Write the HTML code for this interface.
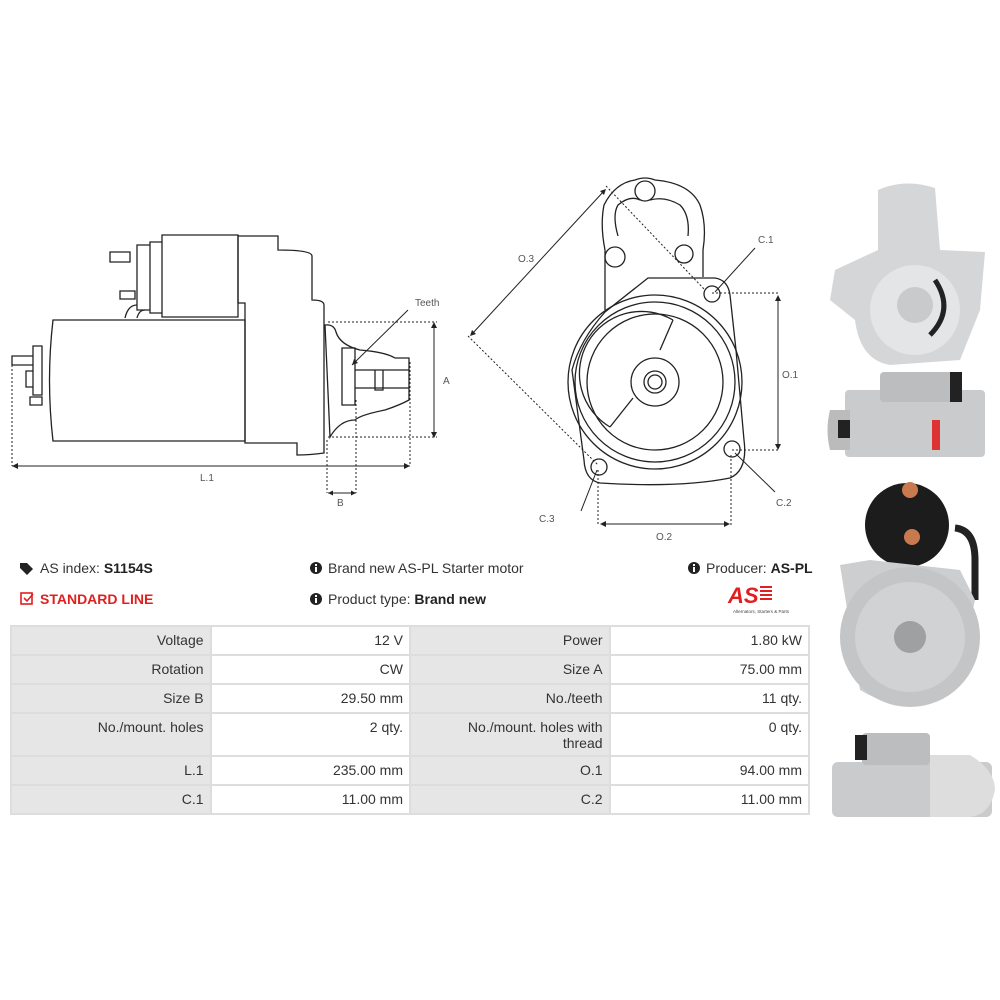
<!DOCTYPE html>
<html><head><meta charset="utf-8"><style>
body{margin:0;background:#fff;width:1000px;height:1000px;position:relative;overflow:hidden;font-family:"Liberation Sans",sans-serif;color:#333}
.t{position:absolute;font-size:14px;white-space:nowrap}
table{position:absolute;left:10px;top:625px;width:800px;border-collapse:separate;border-spacing:2px;background:#ddd;font-size:14px;color:#333;line-height:16px}
td{height:22px;padding:5px 6px 0 6px;text-align:right;vertical-align:top}
td.k{background:#e6e6e6;width:186px}
td.v{background:#fff;width:186px}
tr.tall td{height:36px}
</style></head><body>
<svg width="1000" height="1000" style="position:absolute;left:0;top:0" fill="none" stroke="#222" stroke-width="1.3" font-family="Liberation Sans" font-size="10">
<path d="M53,320 H245 V441 H53 Q46,380 53,320 Z"/>
<path d="M162,235 H238 V317 H162 Z M150,242 H162 V313 H150 Z M137,245 H150 V310 H137 Z"/>
<path d="M110,252 H130 V262 H110 Z M120,291 H135 V299 H120 Z"/>
<path d="M238,236 H278 V250 Q312,250 312,256 V300 Q324,300 324,305 V453 Q310,455 297,455 V443 H245 V303 H238 Z"/>
<path d="M125,318 Q128,305 137,305 M137,318 Q139,310 145,310"/>
<path d="M33,346 H42 V395 H33 Z M12,356 H33 V365 H12 Z M26,371 H33 V387 H26 Z M30,397 H42 V405 H30 Z"/>
<path d="M325,325 Q334,324 336,332 Q340,345 360,350 Q385,352 395,358 H409 V400 Q400,405 385,410 Q360,415 355,420 Q340,420 330,437 Z"/>
<path d="M342,348 H355 V405 H342 Z M355,370 H409 M355,388 H409 M375,370 H383 V390 H375 Z"/>
<g stroke-dasharray="2,2" stroke-width="1"><path d="M328,322 H437 M328,437 H437 M12,365 V466 M410,362 V466 M327,440 V493 M356,400 V493"/></g>
<path d="M434,325 V435 M12,466 H410 M328,493 H356 M408,310 L352,365" stroke-width="1"/>
<g fill="#222" stroke="none"><path d="M434,322 l-3,6 h6Z M434,438 l-3,-6 h6Z M12,466 l6,-3 v6Z M410,466 l-6,-3 v6Z M328,493 l5,-2.5 v5Z M356,493 l-5,-2.5 v5Z M352,365 l2,-6 l4,4Z"/></g>
<path d="M605,310 V250 Q600,225 604,205 Q615,183 635,180 Q645,176 655,180 Q690,183 700,205 Q707,225 703,250 V277"/>
<path d="M618,236 Q612,215 618,205 Q630,195 640,200 M650,200 Q665,196 680,205 Q690,215 688,236"/>
<circle cx="645" cy="191" r="10"/><circle cx="615" cy="257" r="10"/><circle cx="684" cy="254" r="9"/>
<path d="M648,278 H715 Q728,280 730,295 L736,350 L744,440 Q748,470 730,478 Q680,488 600,483 Q585,480 584,460 L572,370 Q580,340 605,312 Z"/>
<circle cx="655" cy="382" r="87"/><circle cx="655" cy="382" r="80"/><circle cx="655" cy="382" r="68"/>
<path d="M673,320 A62,62 0 0 0 610,427 M610,427 L633,398 M673,320 L660,350"/>
<circle cx="655" cy="382" r="24"/><circle cx="655" cy="382" r="11"/><circle cx="655" cy="382" r="7"/>
<circle cx="712" cy="294" r="8"/><circle cx="732" cy="449" r="8"/><circle cx="599" cy="467" r="8"/>
<g stroke-dasharray="2,2" stroke-width="1"><path d="M712,293 H780 M732,450 H780 M598,470 V525 M731,455 V525 M606,186 L705,290 M468,336 L598,465"/></g>
<path d="M778,298 V447 M603,524 H727 M604,191 L472,334 M755,248 L715,292 M581,511 L597,470 M775,492 L735,453" stroke-width="1"/>
<g fill="#222" stroke="none"><path d="M778,295 l-3,6 h6Z M778,450 l-3,-6 h6Z M600,524 l6,-3 v6Z M730,524 l-6,-3 v6Z M606,189 l-6,2 l4,4Z M470,336 l6,-2 l-4,-4Z"/></g>
<g fill="#555" stroke="none">
<text x="415" y="306">Teeth</text><text x="443" y="384">A</text><text x="200" y="481">L.1</text><text x="337" y="506">B</text>
<text x="518" y="262">O.3</text><text x="758" y="243">C.1</text><text x="782" y="378">O.1</text><text x="776" y="506">C.2</text><text x="539" y="522">C.3</text><text x="656" y="540">O.2</text>
</g>
<g stroke="none">
<path d="M878,190 Q905,178 935,188 L940,250 L985,252 L980,310 L960,360 L890,365 Q860,360 855,320 L830,300 L835,270 L878,250 Z" fill="#d4d6d8"/>
<ellipse cx="915" cy="310" rx="45" ry="45" fill="#e4e5e6"/><circle cx="915" cy="305" r="18" fill="#c8cacc"/><path d="M935,280 Q955,310 930,335" stroke="#222" stroke-width="5" fill="none"/>
<rect x="845" y="390" width="140" height="67" rx="4" fill="#c9cbcd"/><rect x="880" y="372" width="80" height="30" rx="4" fill="#bbbdbf"/><rect x="950" y="372" width="12" height="30" fill="#222"/>
<path d="M830,410 H850 V450 H830 Q825,430 830,410Z" fill="#bbb"/><rect x="838" y="420" width="12" height="18" fill="#222"/><rect x="932" y="420" width="8" height="30" fill="#d33"/>
<circle cx="907" cy="525" r="42" fill="#1c1c1c"/><circle cx="910" cy="490" r="8" fill="#c87a4e"/><circle cx="912" cy="537" r="8" fill="#c87a4e"/>
<path d="M955,528 Q975,530 975,560 V600" stroke="#222" stroke-width="7" fill="none"/>
<path d="M840,565 L870,560 L960,570 L975,600 L955,690 Q910,720 860,690 Z" fill="#ccced0"/>
<circle cx="910" cy="637" r="70" fill="#c3c5c7"/><circle cx="910" cy="637" r="55" fill="#d0d2d4"/><circle cx="910" cy="637" r="16" fill="#9ea0a2"/>
<rect x="832" y="762" width="160" height="55" rx="6" fill="#c9cbcd"/><rect x="862" y="733" width="68" height="32" rx="4" fill="#bbbdbf"/><rect x="855" y="735" width="12" height="25" fill="#222"/>
<path d="M930,755 H970 Q995,770 995,790 Q990,815 970,817 H930Z" fill="#ddd"/>
</g>
<g stroke="none" fill="#222">
<path d="M20,563 h7 l6,6 l-6,6 l-7,-7 Z"/><circle cx="316" cy="568" r="6"/><circle cx="316" cy="599" r="6"/><circle cx="694" cy="568" r="6"/>
</g>
<g stroke="none" fill="#fff"><rect x="315" y="567" width="2" height="5"/><rect x="315" y="564" width="2" height="2"/><rect x="315" y="598" width="2" height="5"/><rect x="315" y="595" width="2" height="2"/><rect x="693" y="567" width="2" height="5"/><rect x="693" y="564" width="2" height="2"/></g>
<rect x="21" y="593" width="11" height="11" stroke="#e02020" stroke-width="1.6"/><path d="M24,598 l3,3 l6,-7" stroke="#e02020" stroke-width="1.6"/>
<text x="728" y="603" fill="#e02020" stroke="none" font-size="22" font-weight="bold" font-style="italic">AS</text>
<g fill="#e02020" stroke="none"><rect x="760" y="586" width="12" height="2"/><rect x="760" y="590" width="12" height="2"/><rect x="760" y="594" width="12" height="2"/><rect x="760" y="598" width="12" height="2"/></g>
<text x="733" y="613" fill="#444" stroke="none" font-size="4.5">Alternators, Starters &amp; Parts</text>
</svg>
<div class="t" style="left:40px;top:560px">AS index: <b style="color:#222">S1154S</b></div>
<div class="t" style="left:40px;top:591px;color:#e02020;font-weight:bold">STANDARD LINE</div>
<div class="t" style="left:328px;top:560px">Brand new AS-PL Starter motor</div>
<div class="t" style="left:328px;top:591px">Product type: <b style="color:#222">Brand new</b></div>
<div class="t" style="left:706px;top:560px">Producer: <b style="color:#222">AS-PL</b></div>
<table>
<tr><td class="k">Voltage</td><td class="v">12 V</td><td class="k">Power</td><td class="v">1.80 kW</td></tr>
<tr><td class="k">Rotation</td><td class="v">CW</td><td class="k">Size A</td><td class="v">75.00 mm</td></tr>
<tr><td class="k">Size B</td><td class="v">29.50 mm</td><td class="k">No./teeth</td><td class="v">11 qty.</td></tr>
<tr class="tall"><td class="k">No./mount. holes</td><td class="v">2 qty.</td><td class="k">No./mount. holes with<br>thread</td><td class="v">0 qty.</td></tr>
<tr><td class="k">L.1</td><td class="v">235.00 mm</td><td class="k">O.1</td><td class="v">94.00 mm</td></tr>
<tr><td class="k">C.1</td><td class="v">11.00 mm</td><td class="k">C.2</td><td class="v">11.00 mm</td></tr>
</table>
</body></html>
